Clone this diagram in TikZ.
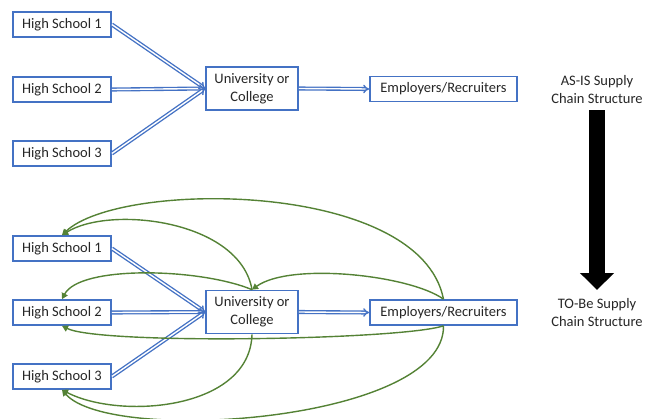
\documentclass[tikz,border=0pt]{standalone}
\usepackage{fontspec}
\setmainfont{Carlito}
\usetikzlibrary{arrows.meta}
\definecolor{boxblue}{HTML}{4472C4}
\definecolor{linkgreen}{HTML}{548235}
\definecolor{inktext}{HTML}{262626}
\begin{document}
\begin{tikzpicture}[x=1pt,y=-1pt,
  box/.style={draw=boxblue, line width=1.7pt, fill=white, inner sep=0pt,
    align=center, text=inktext, font=\fontsize{14.5}{18}\selectfont},
  school/.style={box, minimum width=98pt, minimum height=25pt},
  uni/.style={box, minimum width=92pt, minimum height=43pt},
  hire/.style={box, minimum width=147pt, minimum height=25pt},
  flow/.style={draw=boxblue, line width=1.35pt, double=white, double distance=1.4pt,
    -{Implies[scale=1.5]}},
  link/.style={draw=linkgreen, line width=1.4pt,
    -{Triangle[length=6pt,width=6.5pt]}},
  caption/.style={align=center, text=inktext, font=\fontsize{14.5}{18}\selectfont},
  bigarrow/.style={draw=black, line width=16pt,
    -{Triangle[length=17pt,width=33pt]}}]
\useasboundingbox (0,0) rectangle (655,418);

% ---- current structure ----
\node[school] (a1) at (62,24.5)  {High School 1};
\node[school] (a2) at (62,89.5)  {High School 2};
\node[school] (a3) at (62,153.5) {High School 3};
\node[uni]    (au) at (252,88.5) {University or\\College};
\node[hire]   (ae) at (443.5,89) {Employers/Recruiters};
\draw[flow] (a1.east) -- (au.west);
\draw[flow] (a2.east) -- (au.west);
\draw[flow] (a3.east) -- (au.west);
\draw[flow] (au.east) -- (ae.west);

% ---- future structure ----
\node[school] (b1) at (62,248.5) {High School 1};
\node[school] (b2) at (62,312.5) {High School 2};
\node[school] (b3) at (62,376.5) {High School 3};
\node[uni]    (bu) at (252,312)  {University or\\College};
\node[hire]   (be) at (443.5,312.5) {Employers/Recruiters};
\draw[flow] (b1.east) -- (bu.west);
\draw[flow] (b2.east) -- (bu.west);
\draw[flow] (b3.east) -- (bu.west);
\draw[flow] (bu.east) -- (be.west);

% feedback links
\draw[link] (be.north) .. controls (420,180) and (120,180) .. (b1.north);
\draw[link] (bu.north) .. controls (240,220) and (110,205) .. (b1.north);
\draw[link] (bu.north) .. controls (200,268) and (80,265) .. (b2.north);
\draw[link] (be.north) .. controls (410,275) and (290,262) .. (bu.north);
\draw[link] (be.south) .. controls (400,340) and (100,345) .. (b2.south);
\draw[link] (bu.south) .. controls (250,410) and (120,420) .. (b3.south);
\draw[link] (be.south) .. controls (445,422) and (110,445) .. (b3.south);

% ---- captions and transition arrow ----
\node[caption] (asis) at (597,89.5) {AS-IS Supply\\Chain Structure};
\node[caption] (tobe) at (597,313) {TO-Be Supply\\Chain Structure};
\coordinate (shafttop) at (597,110);
\coordinate (shafttip) at (597,290);
\draw[bigarrow] (shafttop) -- (shafttip);
\end{tikzpicture}
\end{document}
